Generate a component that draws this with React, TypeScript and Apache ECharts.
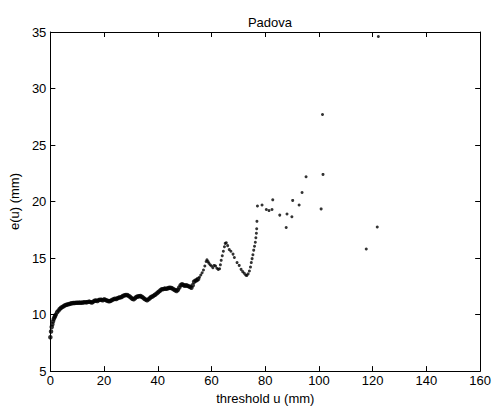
import React, { useEffect, useRef } from "react";
import * as echarts from "echarts";

// Mean excess e(u) against threshold u, Padova rainfall
const denseU = [
  0, 0.25, 0.5, 0.75, 1, 1.25, 1.5, 1.75, 2, 2.5, 3, 3.5, 4, 4.5, 5, 5.5, 6, 6.5, 7, 7.5, 8, 8.5, 9, 9.5,
  10, 10.5, 11, 11.5, 12, 12.5, 13, 13.5, 14, 14.5, 15, 15.5, 16, 16.5, 17, 17.5, 18, 18.5, 19, 19.5,
  20, 20.5, 21, 21.5, 22, 22.5, 23, 23.5, 24, 24.5, 25, 25.5, 26, 26.5, 27, 27.5, 28, 28.5, 29, 29.5,
  30, 30.5, 31, 31.5, 32, 32.5, 33, 33.5, 34, 34.5, 35, 35.5, 36, 36.5, 37, 37.5, 38, 38.5, 39, 39.5,
  40, 40.5, 41, 41.5, 42, 42.5, 43, 43.5, 44, 44.5, 45, 45.5, 46, 46.5, 47, 47.5, 48, 48.5, 49, 49.5,
  50, 50.5, 51, 51.5, 52, 52.5, 53, 53.5, 54, 54.5, 55,
];
const denseE = [
  8.0, 8.5, 8.9, 9.15, 9.4, 9.6, 9.75, 9.88, 10.0, 10.2, 10.35, 10.5, 10.6, 10.68, 10.75, 10.82, 10.87, 10.9, 10.94, 10.97, 11.0, 11.02, 11.03, 11.04,
  11.05, 11.05, 11.06, 11.04, 11.07, 11.08, 11.1, 11.08, 11.12, 11.15, 11.1, 11.07, 11.15, 11.22, 11.25, 11.2, 11.28, 11.32, 11.3, 11.27,
  11.35, 11.3, 11.25, 11.2, 11.18, 11.22, 11.3, 11.35, 11.4, 11.38, 11.44, 11.5, 11.52, 11.55, 11.65, 11.7, 11.72, 11.73, 11.68, 11.6,
  11.5, 11.4, 11.35, 11.45, 11.55, 11.6, 11.62, 11.65, 11.58, 11.5, 11.4, 11.32, 11.26, 11.35, 11.45, 11.55, 11.6, 11.68, 11.75, 11.85,
  11.95, 12.05, 12.15, 12.25, 12.25, 12.3, 12.28, 12.3, 12.35, 12.38, 12.35, 12.3, 12.22, 12.15, 12.08, 12.2, 12.4, 12.6, 12.68, 12.62,
  12.55, 12.6, 12.55, 12.5, 12.45, 12.38, 12.6, 12.9, 13.0, 13.05, 13.15,
];

const midU = [
  55.5, 56, 56.5, 57, 57.5, 58, 58.3, 58.7, 59, 59.5, 60, 60.5, 61, 61.5, 62, 62.5, 63, 63.3, 63.6, 64,
  64.4, 64.8, 65.1, 65.5, 66, 66.6, 67.2, 68, 68.5, 69.5, 70.3, 71, 71.6, 72.2, 72.7, 73.1, 73.6, 74.1, 74.5, 74.8,
  75.1, 75.4, 75.7, 76, 76.3, 76.5, 76.7, 76.8, 76.9, 77.1,
];
const midE = [
  13.3, 13.5, 13.7, 13.95, 14.3, 14.7, 14.85, 14.7, 14.55, 14.4, 14.3, 14.15, 14.35, 14.3, 14.1, 14.0, 14.05, 14.4, 14.8, 15.2,
  15.6, 16.0, 16.3, 16.35, 16.1, 15.75, 15.6, 15.35, 15.05, 14.6, 14.35, 14.0, 13.8, 13.65, 13.5, 13.45, 13.6, 13.85, 14.2, 14.6,
  14.95, 15.3, 15.7, 16.05, 16.4, 16.8, 17.2, 17.6, 18.25, 19.6,
];

const tailU = [78.8, 80.4, 81.4, 82.5, 82.8, 85.4, 87.8, 88.1, 89.9, 90.2, 92.6, 93.7, 95.2, 100.8, 101.5, 101.3, 117.6, 121.7, 122.1];
const tailE = [19.7, 19.3, 19.2, 19.3, 20.15, 18.8, 17.7, 18.9, 18.65, 20.1, 19.7, 20.8, 22.2, 19.35, 22.4, 27.7, 15.8, 17.75, 34.6];

const xTicks = [0, 20, 40, 60, 80, 100, 120, 140, 160];
const yTicks = [5, 10, 15, 20, 25, 30, 35];

const font = "'Liberation Sans', Arial, sans-serif";
const fs = 13;

const pairs = (u: number[], e: number[]) => u.map((v, i) => [v, e[i]]);

export default function App() {
  const ref = useRef<HTMLDivElement>(null);

  useEffect(() => {
    if (!ref.current) return;
    const chart = echarts.init(ref.current, undefined, { renderer: "svg" });

    const xBase = {
      type: "value" as const,
      min: xTicks[0],
      max: xTicks[xTicks.length - 1],
      interval: xTicks[1] - xTicks[0],
      splitLine: { show: false },
      axisLine: { show: true, onZero: false, lineStyle: { color: "#000", width: 1 } },
      axisTick: { show: true, inside: true, length: 5, lineStyle: { color: "#000" } },
    };
    const yBase = {
      type: "value" as const,
      min: yTicks[0],
      max: yTicks[yTicks.length - 1],
      interval: yTicks[1] - yTicks[0],
      splitLine: { show: false },
      axisLine: { show: true, onZero: false, lineStyle: { color: "#000", width: 1 } },
      axisTick: { show: true, inside: true, length: 5, lineStyle: { color: "#000" } },
    };

    chart.setOption({
      animation: false,
      backgroundColor: "#fff",
      title: {
        text: "Padova",
        left: 265,
        textAlign: "center",
        top: 11,
        textStyle: { fontFamily: font, fontSize: fs, fontWeight: "normal", color: "#000" },
      },
      grid: { left: 49.5, right: 13, top: 32, bottom: 38, containLabel: false },
      xAxis: [
        {
          ...xBase,
          position: "bottom",
          name: "threshold u (mm)",
          nameLocation: "middle",
          nameGap: 19,
          nameTextStyle: { fontFamily: font, fontSize: fs, color: "#000" },
          axisLabel: { fontFamily: font, fontSize: fs, color: "#000", margin: 3 },
        },
        { ...xBase, position: "top", axisLabel: { show: false } },
      ],
      yAxis: [
        {
          ...yBase,
          position: "left",
          name: "e(u) (mm)",
          nameLocation: "middle",
          nameGap: 23,
          nameTextStyle: { fontFamily: font, fontSize: fs, color: "#000" },
          axisLabel: { fontFamily: font, fontSize: fs, color: "#000", margin: 4 },
        },
        { ...yBase, position: "right", axisLabel: { show: false } },
      ],
      series: [
        {
          type: "scatter",
          data: pairs(denseU, denseE),
          symbol: "circle",
          symbolSize: 4.5,
          itemStyle: { color: "#000" },
        },
        {
          type: "scatter",
          data: pairs(midU, midE),
          symbol: "circle",
          symbolSize: 3,
          itemStyle: { color: "#000" },
        },
        {
          type: "scatter",
          data: pairs(tailU, tailE),
          symbol: "circle",
          symbolSize: 3,
          itemStyle: { color: "#000" },
        },
      ],
    });

    return () => chart.dispose();
  }, []);

  return <div ref={ref} style={{ width: 494, height: 410, position: "absolute", left: 0, top: 0 }} />;
}
